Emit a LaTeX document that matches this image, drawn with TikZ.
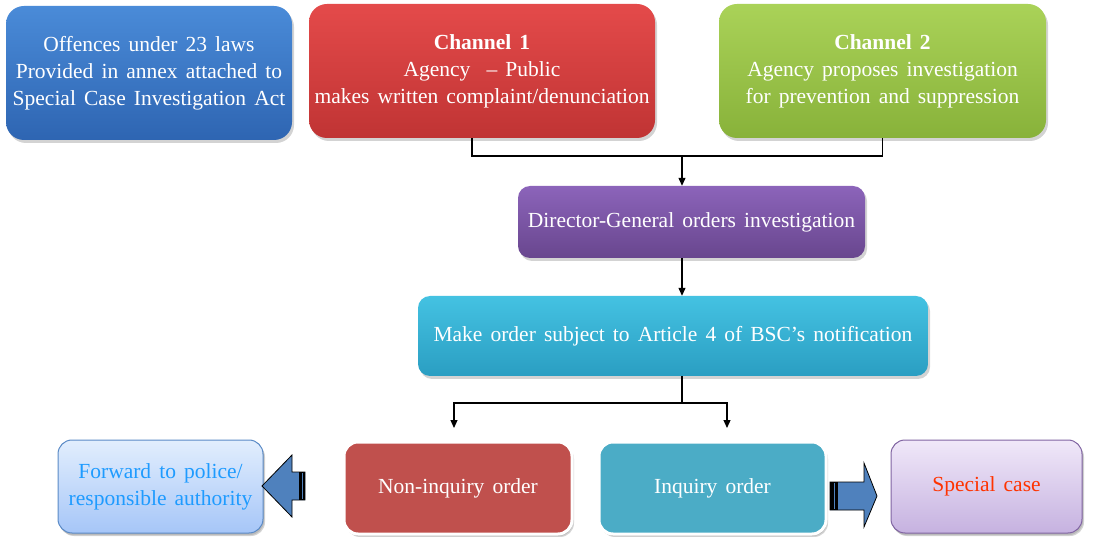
\documentclass[tikz,border=0pt]{standalone}
\usepackage{fontspec}
\setmainfont{Liberation Serif}[WordSpace=1.5]
\usetikzlibrary{arrows.meta,shadows}
\definecolor{bluetop}{HTML}{4A8BD8}
\definecolor{bluebot}{HTML}{2E65B2}
\definecolor{redtop}{HTML}{E44A4A}
\definecolor{redbot}{HTML}{C03434}
\definecolor{greentop}{HTML}{AAD258}
\definecolor{greenbot}{HTML}{88B23A}
\definecolor{purptop}{HTML}{8C64BA}
\definecolor{purpbot}{HTML}{68468E}
\definecolor{cyantop}{HTML}{44C2E2}
\definecolor{cyanbot}{HTML}{2A9EC2}
\definecolor{nonfill}{HTML}{C0504D}
\definecolor{inqfill}{HTML}{4BACC6}
\definecolor{fwdtop}{HTML}{E2EEFD}
\definecolor{fwdbot}{HTML}{A6C6F8}
\definecolor{fwdline}{HTML}{5A8AC6}
\definecolor{fwdtext}{HTML}{1E9BFF}
\definecolor{spctop}{HTML}{F0E8F9}
\definecolor{spcbot}{HTML}{C6B2E0}
\definecolor{spcline}{HTML}{8064A2}
\definecolor{spctext}{HTML}{FF3300}
\definecolor{barrow}{HTML}{4F81BD}
\tikzset{
  boxbase/.style={rounded corners=18pt, align=center, inner sep=0pt,
    font=\fontsize{21.5}{27}\selectfont,
    drop shadow={shadow xshift=2pt, shadow yshift=-3pt, opacity=0.35}},
  topbox/.style={boxbase, text=white, top color=#1top, bottom color=#1bot},
  midbox/.style={boxbase, rounded corners=12pt, text=white, top color=#1top, bottom color=#1bot},
  orderbox/.style={boxbase, rounded corners=14pt, text=white, fill=#1, draw=white, line width=3pt,
    drop shadow={shadow xshift=1pt, shadow yshift=-2pt, opacity=0.3}},
  endbox/.style={boxbase, rounded corners=14pt, text=#1text, top color=#1top, bottom color=#1bot, draw=#1line, line width=1pt,
    drop shadow={shadow xshift=1pt, shadow yshift=-2pt, opacity=0.3}},
  conn/.style={line width=1.2pt},
  arr/.style={conn, -{Triangle[width=7pt,length=8pt]}},
  blockarrow/.style={fill=barrow, draw=black, line width=0.8pt}
}
\begin{document}
\begin{tikzpicture}[x=1pt,y=-1pt]
\useasboundingbox (0,0) rectangle (1093,537);
% top row
\node[topbox=blue, minimum width=286pt, minimum height=134pt] (law) at (149,73)
  {Offences under 23 laws\\Provided in annex attached to\\Special Case Investigation Act};
\node[topbox=red, minimum width=346pt, minimum height=134pt] (ch1) at (482,71)
  {\textbf{Channel 1}\\Agency~ -- Public\\makes written complaint/denunciation};
\node[topbox=green, minimum width=327pt, minimum height=134pt] (ch2) at (882.5,71)
  {\textbf{Channel 2}\\Agency proposes investigation\\for prevention and suppression};
% middle
\node[midbox=purp, minimum width=347pt, minimum height=72pt] (dg) at (691.5,222)
  {Director-General orders investigation};
\node[midbox=cyan, minimum width=510pt, minimum height=80pt] (mo) at (673,336)
  {Make order subject to Article 4 of BSC’s notification};
% bottom row
\node[orderbox=nonfill, minimum width=228pt, minimum height=92pt] (non) at (458,488)
  {Non-inquiry order};
\node[orderbox=inqfill, minimum width=227pt, minimum height=92pt] (inq) at (712.5,488)
  {Inquiry order};
\node[endbox=fwd, minimum width=205pt, minimum height=93pt] (fwd) at (160.5,486.5)
  {Forward to police/\\responsible authority};
\node[endbox=spc, minimum width=191pt, minimum height=93pt] (spc) at (986.5,486.5)
  {Special case};
% connectors
\coordinate (j1) at (682,156);
\coordinate (j2) at (682,403);
\coordinate (a1) at (454,428);
\coordinate (a2) at (727,428);
\draw[conn] ([xshift=-10pt]ch1.south) |- (j1) -| (ch2.south);
\draw[arr] (j1) -- (j1 |- dg.north);
\draw[arr] (dg.south -| j1) -- (j1 |- mo.north);
\draw[conn] (mo.south -| j2) -- (j2);
\draw[arr] (j2) -| (a1);
\draw[arr] (j2) -| (a2);
% block arrows
\draw[blockarrow] (305,472) -- (292,472) -- (292,455) -- (262,486) -- (292,517) -- (292,500) -- (305,500) -- cycle;
\fill[black] (299,472) rectangle (305,500);
\draw[barrow, line width=0.6pt] (302,473) -- (302,499);
\draw[blockarrow] (830,482) -- (864,482) -- (864,463) -- (877,496) -- (864,527) -- (864,510) -- (830,510) -- cycle;
\fill[black] (830,482) rectangle (838,510);
\draw[barrow, line width=0.6pt] (834,483) -- (834,509);
\end{tikzpicture}
\end{document}
